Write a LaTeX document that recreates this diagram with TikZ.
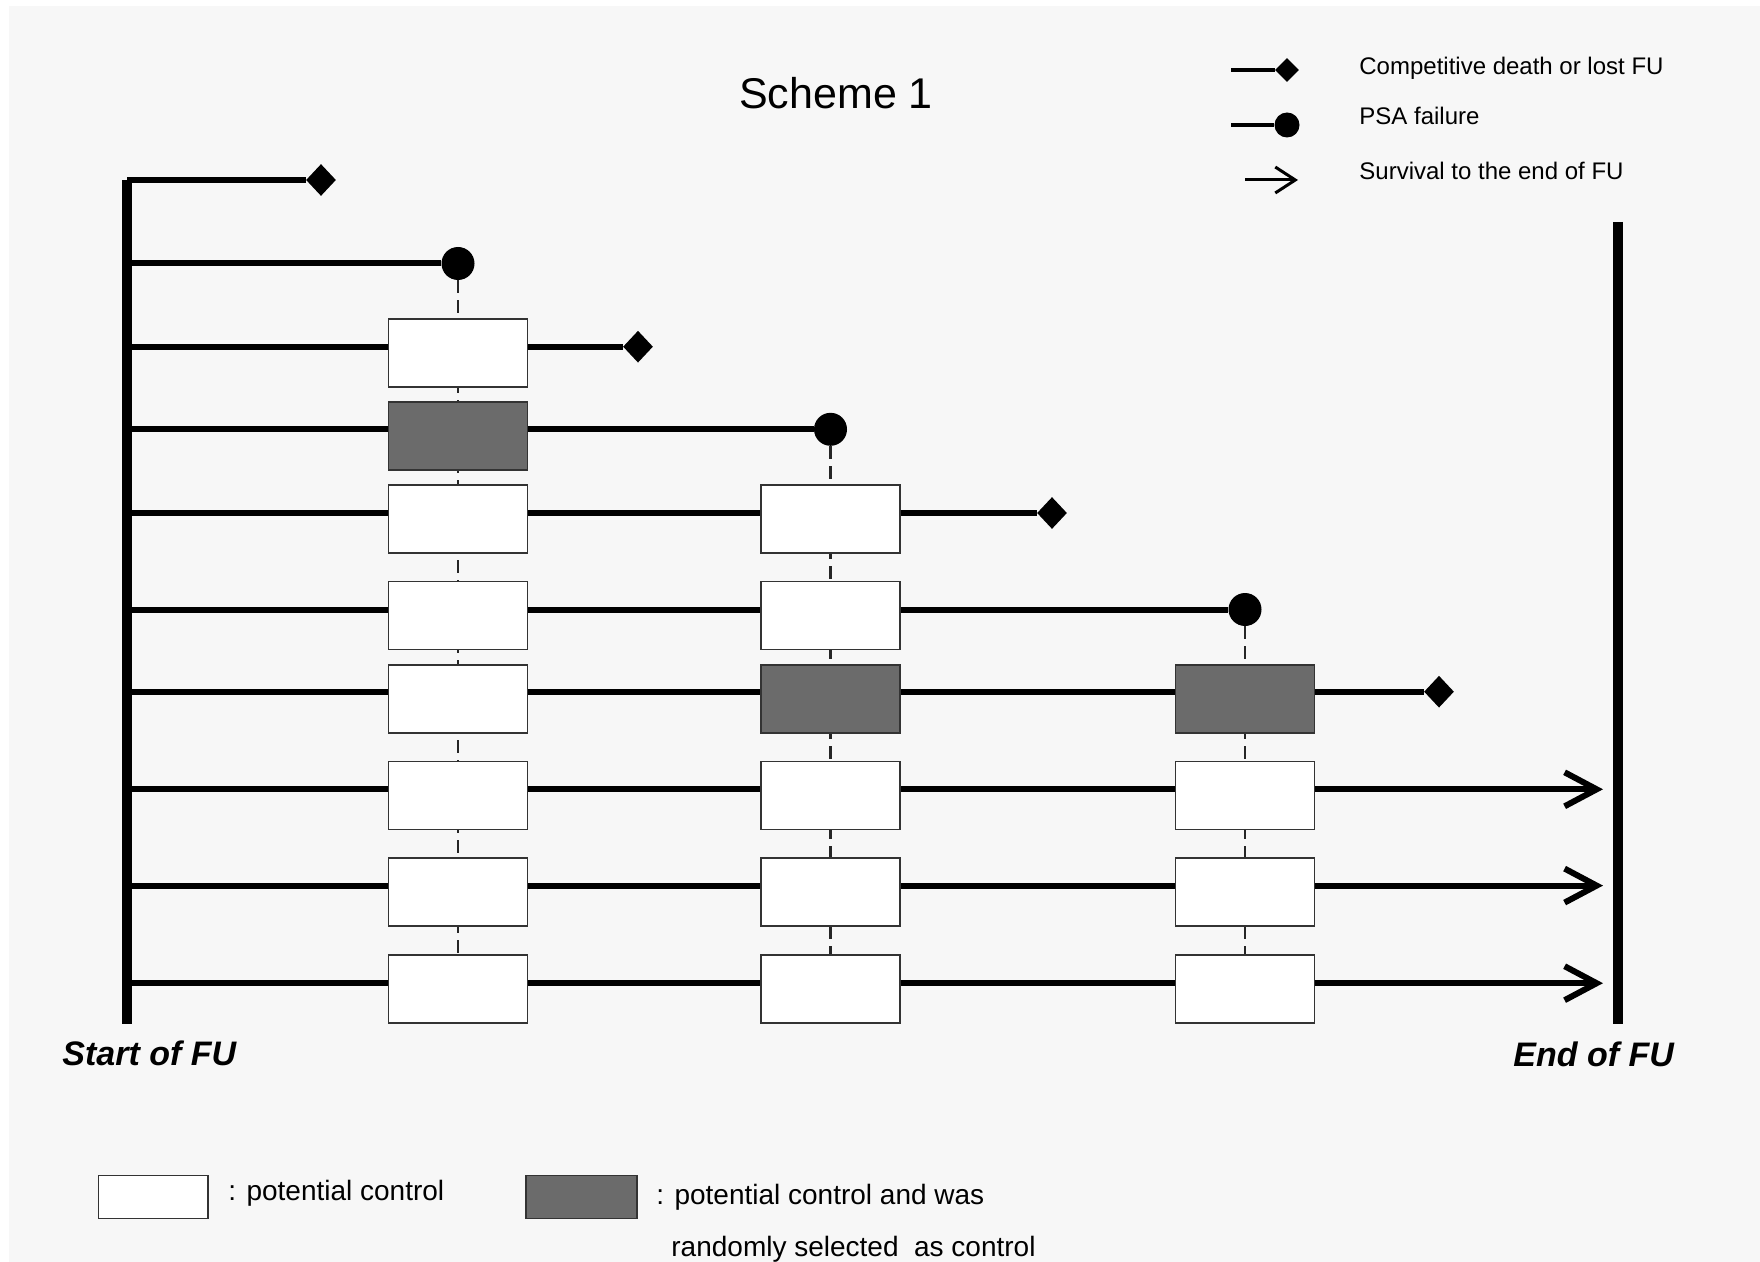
\documentclass[tikz,border=0pt]{standalone}
\usepackage{fontspec}
\setmainfont{Liberation Sans}
\usepackage{xcolor}
\definecolor{fondo}{RGB}{247, 247, 247}
\definecolor{gris}{RGB}{107, 107, 107}
\usetikzlibrary{shapes.geometric, arrows.meta, backgrounds}

\begin{document}
\begin{tikzpicture}[x=0.5pt, y=-0.5pt,
  fu/.style={line width=5pt},
  caso/.style={line width=3pt},
  sigue/.style={caso, -{Straight Barb[length=16pt, width=17pt]}},
  control/.style={rectangle, draw=black!80, line width=0.75pt, fill=white, minimum width=69.5pt, minimum height=34pt, inner sep=0pt},
  elegido/.style={control, fill=gris},
  muerte/.style={diamond, fill=black, inner sep=0pt, minimum width=15pt, minimum height=16pt},
  fallo/.style={circle, fill=black, inner sep=0pt, minimum size=16.5pt},
  enlace/.style={black!85, line width=1.1pt, dash pattern=on 6.5pt off 3.5pt},
  leyenda/.style={font=\fontsize{12}{14}\selectfont, anchor=base west, inner sep=0pt},
  nota/.style={font=\fontsize{14}{17}\selectfont, anchor=base west, inner sep=0pt},
  etiqueta/.style={font=\fontsize{17}{20}\selectfont\bfseries\itshape, anchor=base west, inner sep=0pt}
]
  \useasboundingbox (0,0) rectangle (1760,1262);

  \node[font=\fontsize{21.5}{25}\selectfont, anchor=base] (titulo) at (836,109) {Scheme 1};

  % follow-up start and end
  \coordinate (s1) at (127,180);
  \coordinate (s2) at (127,263.5);
  \coordinate (s3) at (127,346.7);
  \coordinate (s4) at (127,429.3);
  \coordinate (s5) at (127,513);
  \coordinate (s6) at (127,609.5);
  \coordinate (s7) at (127,691.7);
  \coordinate (s8) at (127,789.3);
  \coordinate (s9) at (127,885.6);
  \coordinate (s10) at (127,983.2);
  \coordinate (inicio) at (127,1024);
  \coordinate (fin1) at (1618,222);
  \coordinate (fin2) at (1618,1024);

  % how each case ends
  \node[muerte] (f1) at (321,180) {};
  \node[fallo] (f2) at (458,263.5) {};
  \node[muerte] (f3) at (638,346.7) {};
  \node[fallo] (f4) at (830.5,429.3) {};
  \node[muerte] (f5) at (1052,513) {};
  \node[fallo] (f6) at (1245,609.5) {};
  \node[muerte] (f7) at (1439,691.7) {};
  \coordinate (f8) at (1603,789.3);
  \coordinate (f9) at (1603,885.6);
  \coordinate (f10) at (1603,983.2);

  % risk sets
  \node[control] (ctl3a) at (458,353) {};
  \node[elegido] (ctl4a) at (458,436) {};
  \node[control] (ctl5a) at (458,519) {};
  \node[control] (ctl5b) at (830.5,519) {};
  \node[control] (ctl6a) at (458,615.5) {};
  \node[control] (ctl6b) at (830.5,615.5) {};
  \node[control] (ctl7a) at (458,699) {};
  \node[elegido] (ctl7b) at (830.5,699) {};
  \node[elegido] (ctl7c) at (1245,699) {};
  \node[control] (ctl8a) at (458,795.5) {};
  \node[control] (ctl8b) at (830.5,795.5) {};
  \node[control] (ctl8c) at (1245,795.5) {};
  \node[control] (ctl9a) at (458,892) {};
  \node[control] (ctl9b) at (830.5,892) {};
  \node[control] (ctl9c) at (1245,892) {};
  \node[control] (ctl10a) at (458,989) {};
  \node[control] (ctl10b) at (830.5,989) {};
  \node[control] (ctl10c) at (1245,989) {};

  \begin{scope}[on background layer]
    \fill[fondo] (9,6) rectangle (1760,1262);
    \draw[enlace] (f2) -- (ctl10a);
    \draw[enlace] (f4) -- (ctl10b);
    \draw[enlace] (f6) -- (ctl10c);
    \draw[caso] (s1) -- (f1);
    \draw[caso] (s2) -- (f2);
    \draw[caso] (s3) -- (f3);
    \draw[caso] (s4) -- (f4);
    \draw[caso] (s5) -- (f5);
    \draw[caso] (s6) -- (f6);
    \draw[caso] (s7) -- (f7);
    \draw[sigue] (s8) -- (f8);
    \draw[sigue] (s9) -- (f9);
    \draw[sigue] (s10) -- (f10);
  \end{scope}

  \draw[fu] (s1) -- (inicio);
  \draw[fu] (fin1) -- (fin2);
  \node[etiqueta] (tinicio) at (62,1065) {Start of FU};
  \node[etiqueta] (tfin) at (1513,1066) {End of FU};

  % legend, top
  \coordinate (lm0) at (1231,70);
  \node[muerte, minimum width=12pt, minimum height=12pt] (lmuerte) at (1287,70) {};
  \draw[line width=1.75pt] (lm0) -- (lmuerte);
  \coordinate (lf0) at (1231,125);
  \node[fallo, minimum size=12.5pt] (lfallo) at (1287,125) {};
  \draw[line width=1.75pt] (lf0) -- (lfallo);
  \coordinate (ls0) at (1245,180);
  \coordinate (ls1) at (1298,180);
  \draw[line width=1.5pt, -{Straight Barb[length=10pt, width=13pt]}] (ls0) -- (ls1);
  \node[leyenda] (tmuerte) at (1359,75) {Competitive death or lost FU};
  \node[leyenda] (tfallo) at (1359,124.5) {PSA failure};
  \node[leyenda] (tsigue) at (1359,180) {Survival to the end of FU};

  % legend, bottom
  \node[control, minimum width=54.75pt, minimum height=21.3pt] (lpot) at (153.2,1197) {};
  \node[elegido, minimum width=55.5pt, minimum height=21.3pt] (lsel) at (581.5,1197) {};
  \node[nota] (tpot) at (228,1200) {: potential control};
  \node[nota] (tsel) at (656,1204) {: potential control and was};
  \node[nota] (tsel2) at (671,1256) {randomly selected\ \ as control};
\end{tikzpicture}
\end{document}
